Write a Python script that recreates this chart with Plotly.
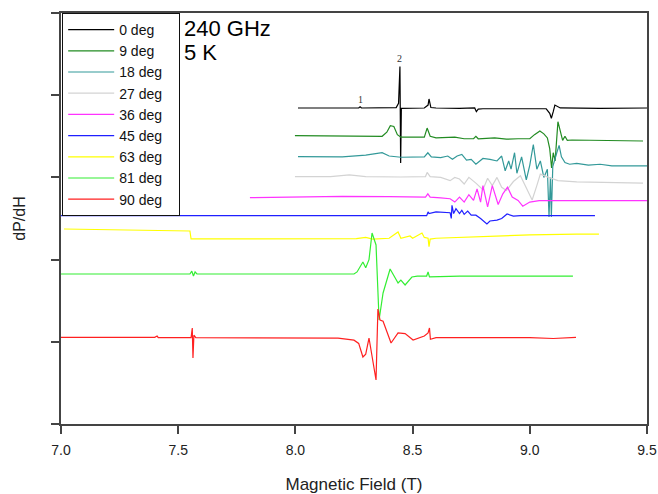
import plotly.graph_objects as go

# ---- data (field in T, dP/dH in arbitrary offset units) ----
labels = ["0 deg", "9 deg", "18 deg", "27 deg", "36 deg", "45 deg", "63 deg", "81 deg", "90 deg"]
colors = ["#000000", "#228B22", "#339999", "#d3d3d3", "#ff33ff", "#2020ff", "#ffff00", "#33ee33", "#ff2020"]

x_0 = [8.011, 8.27, 8.276, 8.282, 8.43, 8.44, 8.446, 8.449, 8.452, 8.55, 8.566, 8.570, 8.578, 8.60, 8.70,
       8.765, 8.772, 8.78, 8.80, 9.00, 9.07, 9.085, 9.092, 9.10, 9.107, 9.13, 9.30, 9.50]
y_0 = [3.844, 3.844, 3.86, 3.844, 3.85, 3.90, 4.35, 3.175, 3.84, 3.844, 3.88, 3.954, 3.85, 3.844, 3.84,
       3.845, 3.80, 3.83, 3.835, 3.835, 3.835, 3.78, 3.72, 3.80, 3.88, 3.845, 3.84, 3.844]

x_9 = [7.998, 8.20, 8.37, 8.39, 8.405, 8.42, 8.435, 8.45, 8.55, 8.562, 8.575, 8.60, 8.68, 8.72, 8.76, 8.77,
       8.78, 8.85, 8.90, 8.95, 9.00, 9.02, 9.043, 9.06, 9.075, 9.085, 9.093, 9.10, 9.108, 9.12, 9.13, 9.14,
       9.15, 9.16, 9.18, 9.30, 9.483]
y_9 = [3.507, 3.50, 3.50, 3.55, 3.63, 3.62, 3.52, 3.49, 3.49, 3.60, 3.50, 3.48, 3.49, 3.47, 3.47, 3.50,
       3.47, 3.48, 3.465, 3.47, 3.47, 3.52, 3.565, 3.53, 3.48, 3.35, 3.114, 3.30, 3.20, 3.678, 3.55, 3.45,
       3.50, 3.45, 3.455, 3.45, 3.443]

x_18 = [8.011, 8.20, 8.30, 8.35, 8.37, 8.40, 8.45, 8.55, 8.565, 8.58, 8.62, 8.65, 8.67, 8.69, 8.71, 8.73,
        8.75, 8.77, 8.80, 8.83, 8.86, 8.88, 8.895, 8.91, 8.92, 8.935, 8.945, 8.965, 8.985, 9.00, 9.015,
        9.03, 9.045, 9.06, 9.075, 9.082, 9.088, 9.092, 9.098, 9.115, 9.125, 9.135, 9.15, 9.17, 9.20, 9.25,
        9.30, 9.35, 9.50]
y_18 = [3.252, 3.25, 3.27, 3.29, 3.30, 3.26, 3.245, 3.25, 3.30, 3.25, 3.24, 3.26, 3.22, 3.26, 3.28, 3.21,
        3.22, 3.16, 3.23, 3.22, 3.20, 3.26, 3.08, 3.20, 3.10, 3.30, 3.05, 3.25, 2.97, 3.15, 3.40,
        3.10, 3.20, 3.00, 3.10, 2.52, 3.00, 2.52, 3.13, 3.30, 3.39, 3.25, 3.18, 3.16, 3.17, 3.15,
        3.16, 3.14, 3.14]

x_27 = [7.998, 8.15, 8.23, 8.30, 8.45, 8.555, 8.562, 8.575, 8.62, 8.66, 8.68, 8.70, 8.72, 8.74, 8.77,
        8.80, 8.82, 8.84, 8.86, 8.88, 8.90, 8.93, 8.96, 8.99, 9.01, 9.03, 9.045, 9.08, 9.12, 9.20, 9.35, 9.483]
y_27 = [3.009, 3.01, 3.03, 3.01, 3.005, 3.01, 3.06, 3.01, 3.00, 2.96, 3.00, 2.98, 2.92, 3.00, 2.93,
        2.85, 2.99, 2.90, 3.00, 2.88, 2.84, 2.95, 3.02, 2.85, 2.725, 2.90, 3.04, 3.00, 2.96, 2.945, 2.935, 2.93]

x_36 = [7.806, 8.00, 8.20, 8.40, 8.555, 8.565, 8.575, 8.62, 8.66, 8.68, 8.70, 8.72, 8.74, 8.76, 8.775,
        8.79, 8.80, 8.82, 8.84, 8.865, 8.885, 8.905, 8.925, 8.95, 8.97, 9.00, 9.04, 9.20, 9.50]
y_36 = [2.753, 2.76, 2.77, 2.765, 2.76, 2.80, 2.76, 2.75, 2.74, 2.70, 2.76, 2.70, 2.79, 2.72, 2.86,
        2.70, 2.90, 2.64, 2.90, 2.67, 2.80, 2.88, 2.76, 2.72, 2.65, 2.70, 2.717, 2.717, 2.717]

x_45 = [7.00, 7.80, 8.30, 8.56, 8.566, 8.57, 8.60, 8.64, 8.66, 8.665, 8.668, 8.675, 8.685, 8.70, 8.71,
        8.72, 8.735, 8.75, 8.77, 8.79, 8.817, 8.83, 8.86, 8.88, 8.903, 8.93, 8.96, 9.10, 9.278]
y_45 = [2.534, 2.534, 2.534, 2.534, 2.58, 2.56, 2.58, 2.575, 2.57, 2.50, 2.66, 2.56, 2.62, 2.56, 2.60,
        2.55, 2.59, 2.54, 2.54, 2.50, 2.433, 2.47, 2.48, 2.50, 2.555, 2.53, 2.535, 2.534, 2.534]

x_63 = [7.013, 7.30, 7.55, 7.555, 7.80, 8.00, 8.26, 8.30, 8.33, 8.40, 8.438, 8.45, 8.489, 8.50, 8.54,
        8.55, 8.566, 8.570, 8.575, 8.60, 8.70, 8.80, 9.00, 9.20, 9.295]
y_63 = [2.372, 2.36, 2.348, 2.251, 2.25, 2.255, 2.255, 2.27, 2.25, 2.26, 2.336, 2.26, 2.287, 2.26, 2.324,
        2.27, 2.26, 2.157, 2.25, 2.26, 2.27, 2.285, 2.30, 2.31, 2.311]

x_81 = [7.00, 7.55, 7.558, 7.565, 7.572, 7.58, 8.25, 8.263, 8.288, 8.30, 8.314, 8.327, 8.344, 8.357,
        8.374, 8.404, 8.438, 8.45, 8.468, 8.497, 8.52, 8.56, 8.566, 8.572, 8.70, 8.90, 9.00, 9.184]
y_81 = [1.825, 1.825, 1.86, 1.80, 1.85, 1.825, 1.825, 1.85, 1.971, 1.90, 2.00, 2.324, 2.178, 1.265,
        1.594, 1.886, 1.715, 1.75, 1.691, 1.788, 1.80, 1.80, 1.849, 1.79, 1.80, 1.80, 1.795, 1.80]

x_90 = [7.00, 7.40, 7.41, 7.415, 7.555, 7.560, 7.563, 7.567, 7.575, 8.00, 8.182, 8.25, 8.27, 8.288, 8.30,
        8.314, 8.327, 8.344, 8.352, 8.361, 8.374, 8.408, 8.438, 8.468, 8.502, 8.55, 8.566, 8.572, 8.576,
        8.60, 8.80, 9.00, 9.10, 9.197]
y_90 = [1.055, 1.055, 1.07, 1.05, 1.05, 1.168, 0.803, 1.08, 1.05, 1.045, 1.045, 1.02, 0.98, 0.815, 0.85,
        1.046, 0.815, 0.535, 1.399, 1.265, 1.25, 0.985, 1.107, 1.10, 1.022, 1.07, 1.107, 1.168, 1.03,
        1.05, 1.05, 1.05, 1.04, 1.055]

series_x = [x_0, x_9, x_18, x_27, x_36, x_45, x_63, x_81, x_90]
series_y = [y_0, y_9, y_18, y_27, y_36, y_45, y_63, y_81, y_90]

x_ticks = [7.0, 7.5, 8.0, 8.5, 9.0, 9.5]
y_ticks = [0, 1, 2, 3, 4, 5]

peak_labels = ["1", "2"]
peak_x = [8.276, 8.446]
peak_y = [3.86, 4.35]

fig = go.Figure()
for xs, ys, name, c in zip(series_x, series_y, labels, colors):
    fig.add_trace(go.Scatter(x=xs, y=ys, mode="lines", name=name + "\u00a0" * 3,
                             line=dict(color=c, width=1.2)))

for t, px_, py_ in zip(peak_labels, peak_x, peak_y):
    fig.add_annotation(x=px_, y=py_, text=t, showarrow=False, yanchor="bottom", yshift=0,
                       font=dict(family="Liberation Serif", size=10, color="#333333"))

fig.add_annotation(xref="paper", yref="paper", x=0.206, y=0.9635, text="240 GHz", showarrow=False,
                   xanchor="left", yanchor="middle", font=dict(family="Arial", size=22, color="#000"))
fig.add_annotation(xref="paper", yref="paper", x=0.206, y=0.905, text="5 K", showarrow=False,
                   xanchor="left", yanchor="middle", font=dict(family="Arial", size=22, color="#000"))

fig.update_layout(
    width=658, height=494,
    margin=dict(l=61, r=11, t=13, b=70, autoexpand=False),
    paper_bgcolor="white", plot_bgcolor="white",
    font=dict(family="Arial", color="#222"),
    showlegend=True,
    legend=dict(x=0.002, y=1, xanchor="left", yanchor="top",
                bordercolor="#111", borderwidth=1, bgcolor="rgba(255,255,255,0)",
                font=dict(family="Arial", size=14, color="#111"),
                tracegroupgap=0, itemwidth=46),
    xaxis=dict(range=[7.0, 9.5], tickvals=x_ticks, tickformat=".1f",
               ticks="outside", ticklen=8, tickcolor="#444", tickwidth=1.5,
               showline=True, linecolor="#444", linewidth=1.5, mirror=True,
               showgrid=False, zeroline=False, automargin=False,
               ticklabelstandoff=4,
               tickfont=dict(family="Arial", size=14, color="#222"),
               title=dict(text="Magnetic Field (T)", font=dict(family="Arial", size=17, color="#222"),
                          standoff=22)),
    yaxis=dict(range=[0, 5], tickvals=y_ticks, showticklabels=False,
               ticks="outside", ticklen=8, tickcolor="#444", tickwidth=1.5,
               showline=True, linecolor="#444", linewidth=1.5, mirror=True,
               showgrid=False, zeroline=False, automargin=False,
               title=dict(text="dP/dH", font=dict(family="Arial", size=16, color="#222"),
                          standoff=22)),
)

fig.write_html("out.html", config={"displayModeBar": False},
               post_script="document.body.style.margin='0';document.body.style.overflow='hidden';")
